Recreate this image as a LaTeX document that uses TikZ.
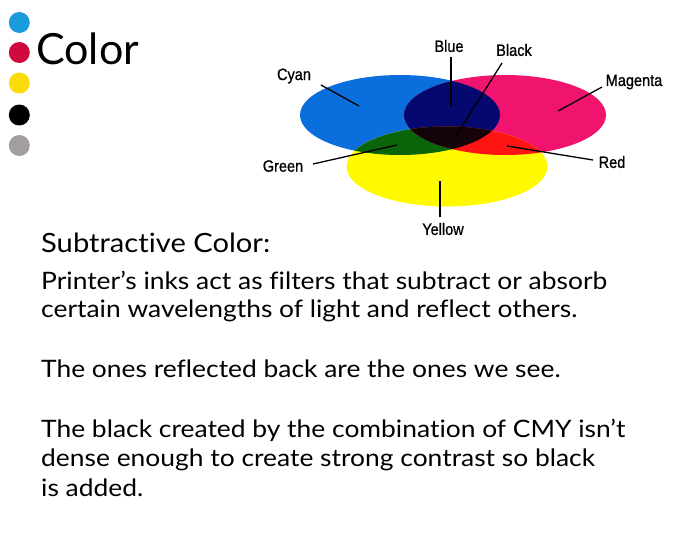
\documentclass[tikz,border=0pt]{standalone}
\usepackage{fontspec}
\setmainfont{Lato}[Ligatures=CommonOff]
\newfontfamily\bodyfont{Lato}[Ligatures=CommonOff,FakeStretch=1.10]
\newfontfamily\narrowfont[FakeStretch=0.88,FakeBold=0.8]{Liberation Sans}
\definecolor{dotblue}{HTML}{1A9BDC}
\definecolor{dotred}{HTML}{CF0A3E}
\definecolor{dotyellow}{HTML}{F9DC0A}
\definecolor{dotgray}{HTML}{A19E9D}
\definecolor{cyanC}{HTML}{0A6FDC}
\definecolor{magC}{HTML}{F0146E}
\definecolor{yelC}{HTML}{FFFA00}
\definecolor{blueC}{HTML}{05086E}
\definecolor{greenC}{HTML}{0A640A}
\definecolor{redC}{HTML}{FF1414}
\definecolor{blackC}{HTML}{140308}
\begin{document}
\begin{tikzpicture}[x=1pt,y=-1pt,
  dot/.style={circle,inner sep=0pt,minimum size=21pt},
  lbl/.style={font=\narrowfont\fontsize{16.5}{16.5}\selectfont,inner sep=0pt},
  leader/.style={line width=1.3pt},
  bodyline/.style={anchor=base west,inner sep=0pt,font=\bodyfont\fontsize{24}{29}\selectfont}]
\useasboundingbox[fill=white] (0,0) rectangle (700,550);
% dots
\node[dot,fill=dotblue] (d1) at (19.3,22.5) {};
\node[dot,fill=dotred] (d2) at (19.3,52.5) {};
\node[dot,fill=dotyellow] (d3) at (19.3,83) {};
\node[dot,fill=black] (d4) at (19.3,115) {};
\node[dot,fill=dotgray] (d5) at (19.3,145.5) {};
\node[anchor=base west,inner sep=0pt,font=\fontsize{43}{43}\selectfont] (title) at (36,64) {Color};
% ellipses
\def\cyanE{(400,115) ellipse [x radius=100,y radius=40]}
\def\magE{(505,115) ellipse [x radius=101,y radius=40]}
\def\yelE{(447,166.5) ellipse [x radius=100.5,y radius=40]}
\fill[cyanC] \cyanE;
\fill[magC] \magE;
\fill[yelC] \yelE;
\begin{scope}\clip \cyanE; \fill[blueC] \magE; \end{scope}
\begin{scope}\clip \cyanE; \fill[greenC] \yelE; \end{scope}
\begin{scope}\clip \magE; \fill[redC] \yelE; \end{scope}
\begin{scope}\clip \cyanE; \clip \magE; \fill[blackC] \yelE; \end{scope}
% labels
\node[lbl] (lblue) at (449,46) {Blue};
\node[lbl] (lblack) at (514,50) {Black};
\node[lbl] (lcyan) at (294,76) {Cyan};
\node[lbl] (lmag) at (634,82) {Magenta};
\node[lbl] (lgreen) at (283,166) {Green};
\node[lbl] (lred) at (612,162) {Red};
\node[lbl] (lyel) at (443,229) {Yellow};
\coordinate (pblue) at (451,106);
\coordinate (pblack) at (456,136);
\coordinate (pcyan) at (359,106);
\coordinate (pmag) at (558,111);
\coordinate (pgreen) at (397,145);
\coordinate (pred) at (507,146);
\coordinate (pyel) at (440,181);
\coordinate (sblue) at (451,57);
\coordinate (sblack) at (502,63);
\coordinate (scyan) at (321,85);
\coordinate (smag) at (602,87);
\coordinate (sgreen) at (313,164);
\coordinate (sred) at (593,160);
\coordinate (syel) at (440,217);
\draw[leader] (sblue) -- (pblue);
\draw[leader] (sblack) -- (pblack);
\draw[leader] (scyan) -- (pcyan);
\draw[leader] (smag) -- (pmag);
\draw[leader] (sgreen) -- (pgreen);
\draw[leader] (sred) -- (pred);
\draw[leader] (syel) -- (pyel);
% text
\node[bodyline,font=\bodyfont\fontsize{26.5}{29}\selectfont] (h) at (41,252) {Subtractive Color:};
\node[bodyline] (t1) at (41,289) {Printer’s inks act as filters that subtract or absorb};
\node[bodyline] (t2) at (41,317) {certain wavelengths of light and reflect others.};
\node[bodyline] (t3) at (41,377) {The ones reflected back are the ones we see.};
\node[bodyline] (t4) at (41,437) {The black created by the combination of CMY isn’t};
\node[bodyline] (t5) at (41,466) {dense enough to create strong contrast so black};
\node[bodyline] (t6) at (41,496) {is added.};
\end{tikzpicture}
\end{document}
